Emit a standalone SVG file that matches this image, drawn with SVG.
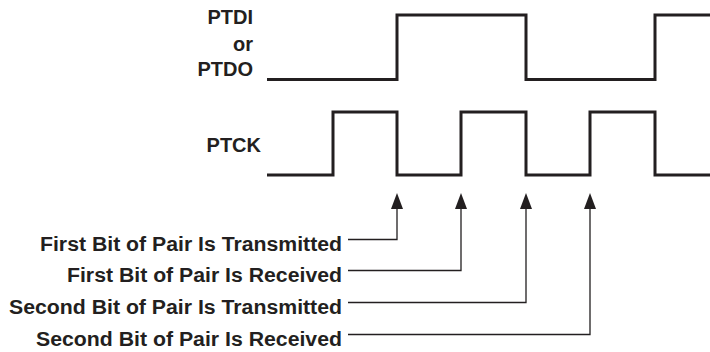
<svg xmlns="http://www.w3.org/2000/svg" width="710" height="352" viewBox="0 0 710 352">
<style>
.lbl{font-family:"Liberation Sans",Arial,sans-serif;font-weight:bold;font-size:20px;fill:#231f20;text-anchor:end}
.wave{fill:none;stroke:#231f20;stroke-width:3;stroke-linejoin:miter}
.conn{fill:none;stroke:#231f20;stroke-width:1.3}
.head{fill:#231f20}
</style>
<defs>
<path id="ah" class="head" d="M0,0 L6,16 L-6,16 Z"/>
</defs>
<g id="signal-labels">
<text class="lbl" x="253" y="24">PTDI</text>
<text class="lbl" x="253" y="50.5">or</text>
<text class="lbl" x="253" y="76">PTDO</text>
<text class="lbl" x="261" y="151.5">PTCK</text>
</g>
<g id="ptdi">
<path class="wave" d="M267,79.5 H397 V15 H526 V79.5 H655 V15 H712"/>
</g>
<g id="ptck">
<path class="wave" d="M267,175 H333 V112 H397 V175 H461 V112 H526 V175 H590 V112 H655 V175 H712"/>
</g>
<g id="event-labels">
<text class="lbl" x="342" y="251" textLength="302" lengthAdjust="spacingAndGlyphs">First Bit of Pair Is Transmitted</text>
<text class="lbl" x="342" y="282" textLength="275" lengthAdjust="spacingAndGlyphs">First Bit of Pair Is Received</text>
<text class="lbl" x="342" y="314" textLength="333" lengthAdjust="spacingAndGlyphs">Second Bit of Pair Is Transmitted</text>
<text class="lbl" x="342" y="346" textLength="306" lengthAdjust="spacingAndGlyphs">Second Bit of Pair Is Received</text>
</g>
<g id="connectors">
<path class="conn" d="M348,239.5 H397 V205"/>
<path class="conn" d="M348,270.5 H461 V205"/>
<path class="conn" d="M348,302.5 H526 V205"/>
<path class="conn" d="M348,334.5 H590 V205"/>
<use href="#ah" x="397" y="193"/>
<use href="#ah" x="461" y="193"/>
<use href="#ah" x="526" y="193"/>
<use href="#ah" x="590" y="193"/>
</g>
</svg>
